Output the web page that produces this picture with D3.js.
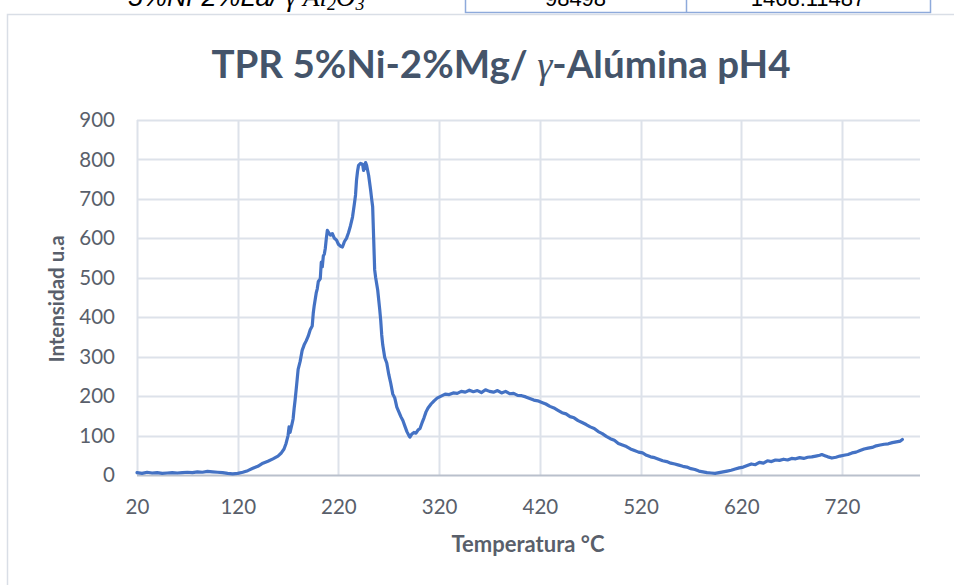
<!DOCTYPE html>
<html>
<head>
<meta charset="utf-8">
<script src="https://cdn.jsdelivr.net/npm/d3@7"></script>
<style>
  html, body { margin: 0; padding: 0; background: #ffffff; }
  svg { display: block; }
</style>
</head>
<body>
<svg id="chart" width="954" height="585"></svg>
<script>
// TPR profile: temperature (°C) and H2 consumption signal (u.a.)
const temperatura = [
  20, 25, 30, 35, 40, 45, 50, 55, 60, 65, 70, 75, 80, 85, 90, 95, 100, 105, 110, 115, 120,
  125, 130, 135, 140, 145, 150, 155, 160, 163, 166, 168, 170, 171, 172, 174, 175, 176, 177, 178,
  179, 180, 182, 184, 186, 188, 190, 192, 194, 195, 196, 198, 199, 200, 202, 203, 204, 205, 206, 207,
  208, 209, 210, 212, 214, 216, 218, 220, 222, 224, 226, 228, 230, 232, 234, 236, 237, 238, 239, 240,
  242, 244, 245, 246, 247, 248, 250, 252, 253, 254, 255, 256, 257, 259, 261, 262, 263, 264, 266, 268,
  270, 272, 274, 276, 278, 280, 282, 284, 286, 288, 290, 291, 293, 295, 297, 299, 301, 303, 305, 307,
  309, 312, 315, 318, 322, 326, 330, 334, 338, 342, 346, 350, 354, 358, 362, 366, 370, 374, 378, 382,
  386, 390, 394, 398, 402, 406, 410, 414, 418, 422, 426, 430, 434, 438, 442, 446, 450, 454, 458, 462,
  466, 470, 474, 478, 482, 486, 490, 494, 498, 502, 506, 510, 514, 518, 522, 526, 530, 534, 538, 542,
  546, 550, 554, 558, 562, 566, 570, 574, 578, 582, 586, 590, 594, 598, 602, 606, 610, 614, 618, 622,
  626, 630, 634, 638, 642, 646, 650, 654, 658, 662, 666, 670, 674, 678, 682, 686, 690, 694, 698, 700,
  703, 706, 710, 714, 718, 722, 726, 730, 734, 738, 742, 746, 750, 754, 758, 762, 766, 770, 774, 778,
  780
];
const intensidad = [
  6, 4, 7, 5, 6, 4, 5, 6, 5, 6, 7, 6, 8, 7, 9, 8, 7, 6, 4, 3, 4,
  7, 11, 17, 22, 30, 35, 41, 48, 55, 66, 80, 100, 122, 108, 130, 142, 168, 190, 215,
  241, 268, 288, 316, 330, 340, 352, 368, 378, 410, 430, 462, 472, 490, 498, 540, 528, 555, 560, 575,
  600, 620, 616, 608, 612, 600, 596, 585, 580, 578, 592, 600, 614, 632, 654, 690, 710, 748, 770, 785,
  790, 788, 772, 780, 792, 785, 760, 722, 700, 680, 600, 520, 500, 469, 420, 392, 355, 330, 298, 284,
  255, 232, 205, 195, 172, 160, 148, 138, 124, 110, 100, 96, 104, 108, 106, 114, 118, 132, 145, 160,
  170, 180, 188, 195, 200, 205, 204, 208, 207, 212, 210, 215, 211, 214, 209, 216, 212, 210, 214, 208,
  212, 206, 207, 202, 201, 198, 194, 190, 188, 184, 180, 174, 170, 164, 158, 155, 148, 145, 138, 133,
  128, 122, 118, 110, 105, 98, 92, 88, 80, 76, 72, 66, 62, 58, 56, 50, 46, 44, 40, 36,
  34, 30, 28, 25, 22, 20, 16, 14, 10, 8, 6, 5, 4, 6, 8, 10, 12, 15, 18, 20,
  24, 28, 26, 32, 30, 36, 34, 38, 37, 40, 38, 42, 41, 44, 42, 45, 46, 48, 50, 52,
  49, 46, 43, 45, 48, 50, 52, 56, 58, 62, 66, 68, 70, 74, 76, 78, 79, 82, 84, 86,
  90
];

// Axis tick labels
const xTicks = [20, 120, 220, 320, 420, 520, 620, 720];
const yTicks = [0, 100, 200, 300, 400, 500, 600, 700, 800, 900];

// Fragment of the table above the chart
const tablaMuestra = ["5%Ni-2%La/ ", "γ Al", "2", "O", "3"];
const tablaValores = ["98498", "1468.11487"];

const svg = d3.select("#chart");
const font = "Lato, 'Open Sans', sans-serif";
const textColor = "#595f6b";

// Table fragment cut at the top edge
const muestra = svg.append("text")
  .attr("x", 128).attr("y", 6)
  .attr("font-style", "italic")
  .attr("font-size", 27)
  .attr("fill", "#000");
muestra.append("tspan").attr("font-family", "'Liberation Sans', sans-serif").text(tablaMuestra[0]);
muestra.append("tspan").attr("font-family", "'Liberation Serif', serif").text(tablaMuestra[1]);
muestra.append("tspan").attr("font-family", "'Liberation Serif', serif").attr("font-size", 18).attr("dy", 4).text(tablaMuestra[2]);
muestra.append("tspan").attr("font-family", "'Liberation Serif', serif").attr("dy", -4).text(tablaMuestra[3]);
muestra.append("tspan").attr("font-family", "'Liberation Serif', serif").attr("font-size", 18).attr("dy", 4).text(tablaMuestra[4]);

const cellX = [465, 686, 930];
svg.append("path")
  .attr("d", `M${cellX[0]+0.5},0 V12.5 H${cellX[2]+0.5} V0 M${cellX[1]+0.5},0 V12.5`)
  .attr("fill", "none").attr("stroke", "#8eaadb").attr("stroke-width", 1.5);
tablaValores.forEach((v, i) => {
  svg.append("text")
    .attr("x", (cellX[i] + cellX[i + 1]) / 2).attr("y", 6)
    .attr("text-anchor", "middle")
    .attr("font-family", "'Liberation Sans', sans-serif")
    .attr("font-size", 22)
    .attr("fill", "#000")
    .text(v);
});

// Chart frame
svg.append("rect")
  .attr("x", 7.5).attr("y", 14.5)
  .attr("width", 960).attr("height", 590)
  .attr("fill", "#fff").attr("stroke", "#d9dee6").attr("stroke-width", 1.5);

const plot = { left: 137, right: 920, top: 120, bottom: 475 };
const x = d3.scaleLinear().domain([20, 797.5]).range([plot.left, plot.right]);
const y = d3.scaleLinear().domain([0, 900]).range([plot.bottom, plot.top]);

// Horizontal gridlines
svg.append("g")
  .selectAll("line").data(yTicks.filter(d => d > 0)).join("line")
  .attr("x1", plot.left).attr("x2", plot.right)
  .attr("y1", d => Math.round(y(d)) + 0.5).attr("y2", d => Math.round(y(d)) + 0.5)
  .attr("stroke", "#dde2ea").attr("stroke-width", 2);

// Vertical gridlines
svg.append("g")
  .selectAll("line").data(xTicks).join("line")
  .attr("x1", d => Math.round(x(d)) + 0.5).attr("x2", d => Math.round(x(d)) + 0.5)
  .attr("y1", plot.top).attr("y2", plot.bottom)
  .attr("stroke", "#dde2ea").attr("stroke-width", 2);

// Category axis line
svg.append("line")
  .attr("x1", plot.left).attr("x2", plot.right)
  .attr("y1", plot.bottom + 0.5).attr("y2", plot.bottom + 0.5)
  .attr("stroke", "#b9c0cc").attr("stroke-width", 2);

// Y axis labels
const yAxis = d3.axisLeft(y).tickValues(yTicks).tickSize(0).tickPadding(22);
svg.append("g")
  .attr("transform", `translate(${plot.left},0)`)
  .call(yAxis)
  .call(g => g.select(".domain").remove())
  .call(g => g.selectAll("text")
    .attr("font-family", font).attr("font-size", 20.5).attr("fill", textColor));

// X axis labels
const xAxis = d3.axisBottom(x).tickValues(xTicks).tickSize(0).tickPadding(24).tickFormat(d3.format("d"));
svg.append("g")
  .attr("transform", `translate(0,${plot.bottom})`)
  .call(xAxis)
  .call(g => g.select(".domain").remove())
  .call(g => g.selectAll("text")
    .attr("font-family", font).attr("font-size", 20.5).attr("fill", textColor));

// Signal line
const datos = temperatura.map((t, i) => ({ t, v: intensidad[i] }));
const linea = d3.line().x(d => x(d.t)).y(d => y(d.v));
svg.append("path")
  .datum(datos)
  .attr("d", linea)
  .attr("fill", "none")
  .attr("stroke", "#4472c4")
  .attr("stroke-width", 3.2)
  .attr("stroke-linejoin", "round")
  .attr("stroke-linecap", "round");

// Title
const titulo = svg.append("text")
  .attr("x", 501).attr("y", 78)
  .attr("text-anchor", "middle")
  .attr("font-family", font).attr("font-weight", 700).attr("font-size", 38.5)
  .attr("fill", "#44546a");
titulo.append("tspan").text("TPR 5%Ni-2%Mg/ ");
titulo.append("tspan")
  .attr("font-family", "'Liberation Serif', serif")
  .attr("font-style", "italic").attr("font-weight", 400)
  .text("γ");
titulo.append("tspan").text("-Alúmina pH4");

// Axis titles
svg.append("text")
  .attr("x", 528).attr("y", 552)
  .attr("text-anchor", "middle")
  .attr("font-family", font).attr("font-weight", 700).attr("font-size", 22)
  .attr("fill", textColor)
  .text("Temperatura °C");

svg.append("text")
  .attr("transform", "translate(64,299) rotate(-90)")
  .attr("text-anchor", "middle")
  .attr("font-family", font).attr("font-weight", 700).attr("font-size", 20.5)
  .attr("fill", textColor)
  .text("Intensidad u.a");
</script>
</body>
</html>
